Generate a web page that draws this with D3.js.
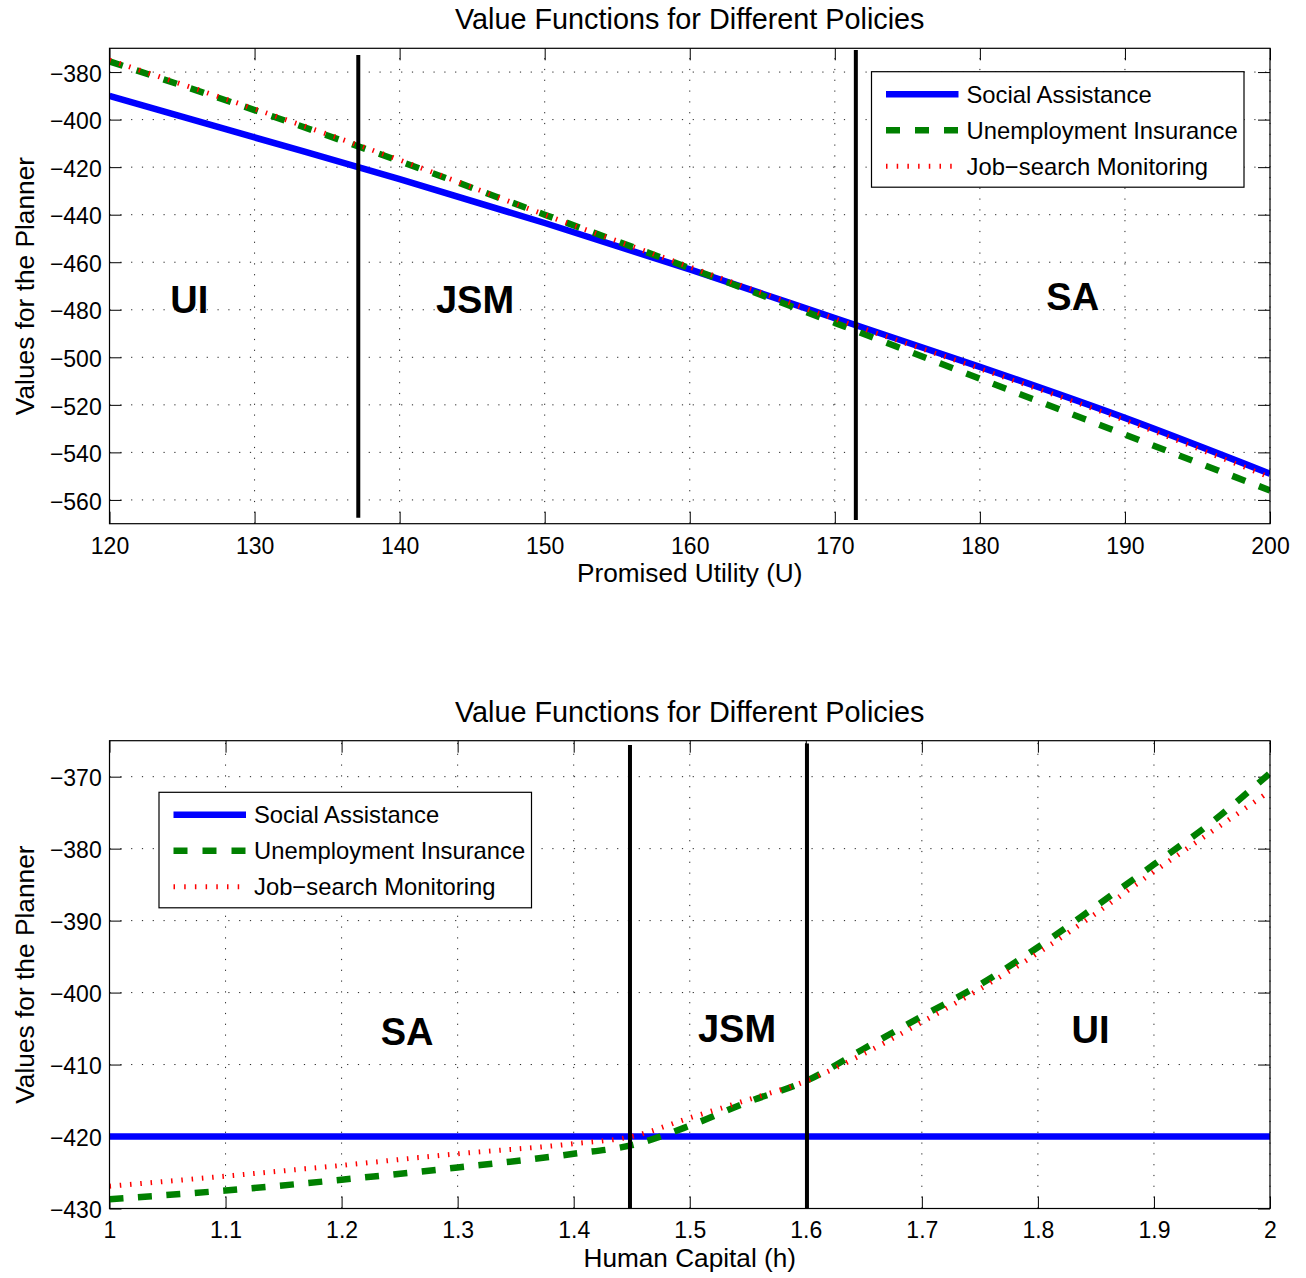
<!DOCTYPE html>
<html>
<head>
<meta charset="utf-8">
<script src="https://cdn.jsdelivr.net/npm/d3@7"></script>
<style>
  body { margin: 0; background: #fff; }
  svg { display: block; font-family: "Liberation Sans", Arial, Helvetica, sans-serif; }
</style>
</head>
<body>
<div id="chart"></div>
<script>
// ---- data ----
const seriesNames = ["Social Assistance", "Unemployment Insurance", "Job\u2212search Monitoring"];

// top panel: value vs promised utility U
const topU   = [120, 130, 140, 150, 160, 170, 180, 190, 200];
const topSA  = [-390, -407.5, -425, -443.5, -463, -483.5, -504, -525.5, -549];
const topUI  = [-375.5, -396, -417.5, -440, -462.5, -485.5, -509, -532.5, -556];
const topJSM = [-375, -395.5, -417, -440, -462, -483.8, -504.8, -526.5, -550.5];
const topCuts = [137.15, 171.45];
const topCutSpan = [[-372.8, -567.5], [-370.7, -568.4]];
const topXTicks = [120, 130, 140, 150, 160, 170, 180, 190, 200];
const topYTicks = [-560, -540, -520, -500, -480, -460, -440, -420, -400, -380];
const topRegions = ["UI", "JSM", "SA"];
const topRegionAt = [[125.5, -481.5], [145.2, -481.5], [186.4, -480]];

// bottom panel: value vs human capital h
const botH   = [1.0, 1.1, 1.2, 1.3, 1.4, 1.45, 1.5, 1.55, 1.6, 1.65, 1.7, 1.75, 1.8, 1.85, 1.9, 1.95, 2.0];
const botSA  = [-420, -420, -420, -420, -420, -420, -420, -420, -420, -420, -420, -420, -420, -420, -420, -420, -420];
const botUI  = [-428.7, -427.5, -426.0, -424.3, -422.4, -421.2, -418.5, -415.2, -412.3, -407.8, -403.3, -398.9, -393.7, -388.0, -382.2, -376.3, -369.5];
const botJSM = [-426.9, -425.5, -424.0, -422.4, -421.0, -420.0, -417.4, -414.9, -412.3, -408.5, -404.1, -399.5, -394.5, -389.0, -383.2, -377.6, -372.0];
const botCuts = [1.4485, 1.601];
const botCutSpan = [[-365.6, -430], [-365.4, -430]];
const botXTicks = [1, 1.1, 1.2, 1.3, 1.4, 1.5, 1.6, 1.7, 1.8, 1.9, 2];
const botYTicks = [-430, -420, -410, -400, -390, -380, -370];
const botRegions = ["SA", "JSM", "UI"];
const botRegionAt = [[1.2564, -407.3], [1.5407, -406.9], [1.8453, -407.0]];

// ---- styles ----
const styles = [
  { color: "#0000ff", width: 6.5, dash: null },
  { color: "#008000", width: 6.5, dash: "14,14.5" },
  { color: "#ff0000", width: 5, dash: "1.5,8.8" }
];

const W = 1306, H = 1278;
const svg = d3.select("#chart").append("svg")
  .attr("width", W).attr("height", H);
svg.append("rect").attr("width", W).attr("height", H).attr("fill", "#fff");

const fmt = d3.format("");

function drawPanel(cfg) {
  const { left, right, top, bottom } = cfg.box;
  const x = d3.scaleLinear().domain(cfg.xDomain).range([left, right]);
  const y = d3.scaleLinear().domain(cfg.yDomain).range([bottom, top]);
  const g = svg.append("g");

  // grid
  const grid = g.append("g").attr("stroke", "#222").attr("stroke-width", 1)
    .attr("stroke-dasharray", "1.2,9.6");
  grid.selectAll(".gx").data(cfg.xTicks).enter().append("line")
    .attr("x1", d => x(d)).attr("x2", d => x(d))
    .attr("y1", bottom).attr("y2", top);
  grid.selectAll(".gy").data(cfg.yTicks).enter().append("line")
    .attr("x1", left).attr("x2", right)
    .attr("y1", d => y(d)).attr("y2", d => y(d));

  // axes (inward ticks)
  const tickLen = 12;
  const ax = (sel, axis) => {
    sel.call(axis);
    sel.select(".domain").remove();
    sel.selectAll(".tick line").attr("stroke", "#000").attr("stroke-width", 1);
    sel.selectAll("text").attr("fill", "#000").attr("font-size", 23)
      .attr("font-family", "Liberation Sans, Arial, sans-serif");
  };
  g.append("g").attr("transform", `translate(0,${bottom})`)
    .call(s => ax(s, d3.axisBottom(x).tickValues(cfg.xTicks).tickSize(-tickLen).tickPadding(13.5).tickFormat(fmt)));
  g.append("g").attr("transform", `translate(0,${top})`)
    .call(s => ax(s, d3.axisTop(x).tickValues(cfg.xTicks).tickSize(-tickLen).tickFormat("")));
  g.append("g").attr("transform", `translate(${left},0)`)
    .call(s => ax(s, d3.axisLeft(y).tickValues(cfg.yTicks).tickSize(-tickLen).tickPadding(7.8).tickFormat(d3.format("d"))))
    .selectAll("text").attr("dy", "0.4em");
  g.append("g").attr("transform", `translate(${right},0)`)
    .call(s => ax(s, d3.axisRight(y).tickValues(cfg.yTicks).tickSize(-tickLen).tickFormat("")));

  // clip
  const clipId = "clip" + cfg.id;
  svg.append("clipPath").attr("id", clipId).append("rect")
    .attr("x", left).attr("y", top).attr("width", right - left).attr("height", bottom - top);

  const line = d3.line().curve(d3.curveMonotoneX)
    .x(d => x(d[0])).y(d => y(d[1]));
  const plot = g.append("g").attr("clip-path", `url(#${clipId})`);
  cfg.series.forEach((vals, i) => {
    const st = styles[i];
    plot.append("path")
      .datum(cfg.xs.map((v, j) => [v, vals[j]]))
      .attr("d", line)
      .attr("fill", "none")
      .attr("stroke", st.color)
      .attr("stroke-width", st.width)
      .attr("stroke-dasharray", st.dash)
      .attr("stroke-linecap", "butt");
  });

  // policy cutoffs
  plot.selectAll(".cut").data(cfg.cuts).enter().append("line")
    .attr("x1", d => x(d)).attr("x2", d => x(d))
    .attr("y1", (d, i) => y(cfg.cutSpan[i][0]))
    .attr("y2", (d, i) => y(cfg.cutSpan[i][1]))
    .attr("stroke", "#000").attr("stroke-width", 4);

  // region labels
  g.selectAll(".region").data(cfg.regions).enter().append("text")
    .attr("x", (d, i) => x(cfg.regionAt[i][0]))
    .attr("y", (d, i) => y(cfg.regionAt[i][1]))
    .attr("text-anchor", "middle")
    .attr("font-size", 38).attr("font-weight", "bold")
    .text(d => d);

  // box
  g.append("rect").attr("x", left).attr("y", top)
    .attr("width", right - left).attr("height", bottom - top)
    .attr("fill", "none").attr("stroke", "#000").attr("stroke-width", 1.2);

  // title and labels
  g.append("text").attr("x", (left + right) / 2).attr("y", top - 19)
    .attr("text-anchor", "middle").attr("font-size", 28.8).text(cfg.title);
  g.append("text").attr("x", (left + right) / 2).attr("y", bottom + 58)
    .attr("text-anchor", "middle").attr("font-size", 26.2).text(cfg.xLabel);
  g.append("text")
    .attr("transform", `translate(34,${(top + bottom) / 2}) rotate(-90)`)
    .attr("text-anchor", "middle").attr("font-size", 26.3).text(cfg.yLabel);

  // legend
  const lg = g.append("g").attr("transform", `translate(${cfg.legend[0]},${cfg.legend[1]})`);
  lg.append("rect").attr("width", cfg.legend[2]).attr("height", 115.5)
    .attr("fill", "#fff").attr("stroke", "#000").attr("stroke-width", 1.2);
  seriesNames.forEach((name, i) => {
    const cy = 22.5 + i * 36;
    const st = styles[i];
    lg.append("line").attr("x1", 14.5).attr("x2", 87).attr("y1", cy).attr("y2", cy)
      .attr("stroke", st.color).attr("stroke-width", st.width)
      .attr("stroke-dasharray", st.dash === null ? null : (i === 1 ? "14,15" : "1.5,9.2"));
    lg.append("text").attr("x", 95).attr("y", cy + 8.5)
      .attr("font-size", 23.8).text(name);
  });
}

drawPanel({
  id: "top",
  box: { left: 109.5, right: 1270, top: 48.3, bottom: 523.7 },
  xDomain: [120, 200], yDomain: [-570, -370],
  xTicks: topXTicks, yTicks: topYTicks,
  xs: topU, series: [topSA, topUI, topJSM],
  cuts: topCuts, cutSpan: topCutSpan,
  regions: topRegions, regionAt: topRegionAt,
  title: "Value Functions for Different Policies",
  xLabel: "Promised Utility (U)",
  yLabel: "Values for the Planner",
  legend: [871.5, 71.7, 372.5]
});

drawPanel({
  id: "bot",
  box: { left: 109.5, right: 1270, top: 740.7, bottom: 1208.5 },
  xDomain: [1, 2], yDomain: [-430, -365],
  xTicks: botXTicks, yTicks: botYTicks,
  xs: botH, series: [botSA, botUI, botJSM],
  cuts: botCuts, cutSpan: botCutSpan,
  regions: botRegions, regionAt: botRegionAt,
  title: "Value Functions for Different Policies",
  xLabel: "Human Capital (h)",
  yLabel: "Values for the Planner",
  legend: [159, 792.3, 372.5]
});
</script>
</body>
</html>
